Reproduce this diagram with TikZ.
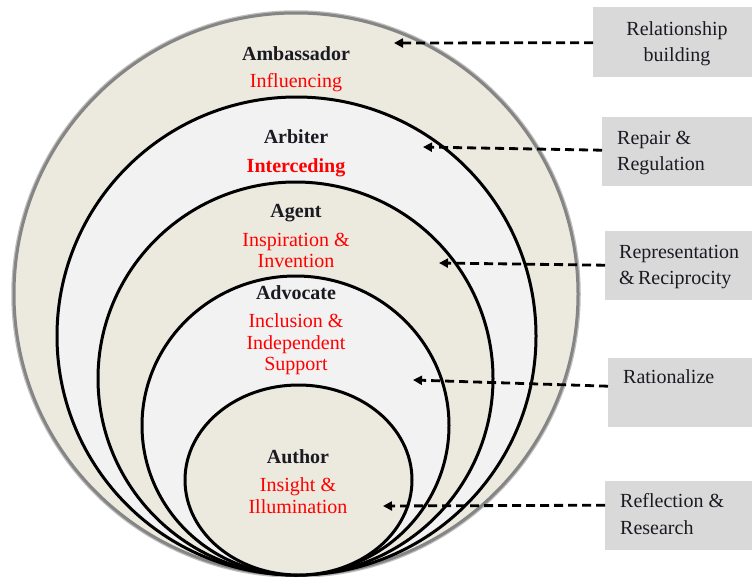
\documentclass[tikz,border=0pt]{standalone}
\usepackage{fontspec}
\setmainfont{Liberation Serif}
\usetikzlibrary{arrows.meta}
\definecolor{ringbeige}{HTML}{ECE9DF}
\definecolor{ringgray}{HTML}{F2F2F2}
\definecolor{boxgray}{HTML}{D9D9D9}
\definecolor{rimgray}{HTML}{858585}
\definecolor{titleink}{HTML}{1A1A22}
\begin{document}
\begin{tikzpicture}[x=1pt,y=-1pt,
  ring/.style={draw=black,line width=3pt},
  title/.style={anchor=base,inner sep=0pt,font=\fontsize{20}{22}\selectfont\bfseries,text=titleink},
  role/.style={anchor=base,inner sep=0pt,font=\fontsize{20}{22}\selectfont,text=red},
  sidebox/.style={fill=boxgray,anchor=north west,inner sep=0pt},
  boxtext/.style={anchor=base west,inner sep=0pt,font=\fontsize{20}{22}\selectfont,text=titleink},
  pointer/.style={dash pattern=on 9pt off 5pt,line width=2.8pt,
    -{Triangle[length=9pt,width=9pt]}}]
\useasboundingbox (0,0) rectangle (752,576);

% nested rings, largest first; soft halo under the outer rim
\draw[draw=black!25,line width=5.5pt] (296,294) ellipse [x radius=282pt,y radius=281pt];
\draw[fill=ringbeige,draw=rimgray,line width=3pt] (296,294) ellipse [x radius=282pt,y radius=281pt];
\draw[ring,fill=ringgray]  (296.5,336) ellipse [x radius=239.5pt,y radius=239pt];
\draw[ring,fill=ringbeige] (295.5,378.5) ellipse [x radius=197.5pt,y radius=196.5pt];
\draw[ring,fill=ringgray]  (295.5,425.5) ellipse [x radius=153.5pt,y radius=149.5pt];
\draw[ring,fill=ringbeige] (298.5,480) ellipse [x radius=113.5pt,y radius=95pt];

% ring labels
\node[title] (amb) at (296,60) {Ambassador};
\node[role]  (amb1) at (296,87) {Influencing};
\node[title] (arb) at (296,143) {Arbiter};
\node[role,font=\fontsize{20}{22}\selectfont\bfseries] (arb1) at (296,172) {Interceding};
\node[title] (agt) at (296,217) {Agent};
\node[role]  (agt1) at (296,246) {Inspiration \&};
\node[role]  (agt2) at (296,267) {Invention};
\node[title] (adv) at (296,299) {Advocate};
\node[role]  (adv1) at (296,327) {Inclusion \&};
\node[role]  (adv2) at (296,349) {Independent};
\node[role]  (adv3) at (296,370) {Support};
\node[title] (aut) at (298,463) {Author};
\node[role]  (aut1) at (298,491) {Insight \&};
\node[role]  (aut2) at (298,513) {Illumination};

% side boxes
\node[sidebox,minimum width=159pt,minimum height=70pt] (b1) at (593,7) {};
\node[sidebox,minimum width=150pt,minimum height=69pt] (b2) at (602,117) {};
\node[sidebox,minimum width=147pt,minimum height=69pt] (b3) at (605,231) {};
\node[sidebox,minimum width=144pt,minimum height=69pt] (b4) at (608,358) {};
\node[sidebox,minimum width=147pt,minimum height=69pt] (b5) at (605,481) {};

\node[boxtext,anchor=base] (t1a) at (677,35) {Relationship};
\node[boxtext,anchor=base] (t1b) at (677,61) {building};
\node[boxtext] (t2a) at (617,144) {Repair \&};
\node[boxtext] (t2b) at (617,170) {Regulation};
\node[boxtext] (t3a) at (619,258) {Representation};
\node[boxtext] (t3b) at (619,284) {\&\,Reciprocity};
\node[boxtext] (t4a) at (623,383) {Rationalize};
\node[boxtext] (t5a) at (620,507) {Reflection \&};
\node[boxtext] (t5b) at (620,534) {Research};

% pointer targets inside the rings
\coordinate (p1) at (394,43);
\coordinate (p2) at (423,147);
\coordinate (p3) at (439,263);
\coordinate (p4) at (413,380);
\coordinate (p5) at (383,506);

\draw[pointer] ([yshift=-0.5pt]b1.west) -- (p1);
\draw[pointer] ([yshift=1.5pt]b2.west) -- (p2);
\draw[pointer] ([yshift=0.5pt]b3.west) -- (p3);
\draw[pointer] ([yshift=6.5pt]b4.west) -- (p4);
\draw[pointer] ([yshift=10.5pt]b5.west) -- (p5);
\end{tikzpicture}
\end{document}
